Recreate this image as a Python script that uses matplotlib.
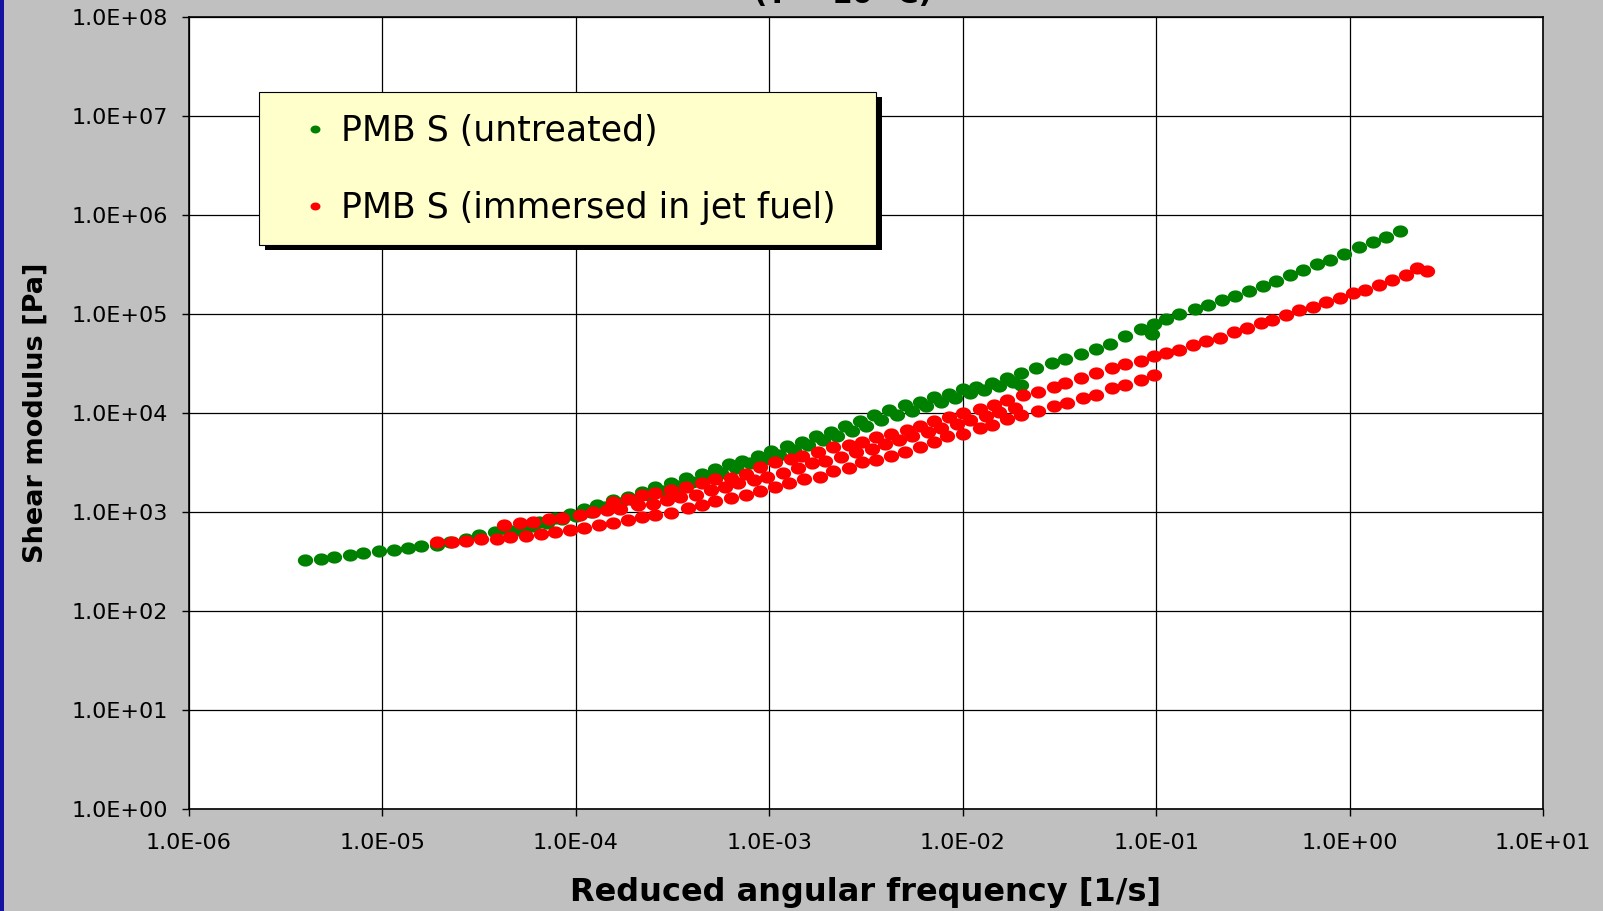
import numpy as np
import matplotlib
matplotlib.use("Agg")
import matplotlib.pyplot as plt
from matplotlib.patches import Rectangle
from matplotlib.ticker import LogLocator, NullLocator, FuncFormatter

plt.rcParams['font.family'] = ['DejaVu Sans']

# master curves, log10 of reduced angular frequency [1/s] and log10 of shear modulus [Pa]
# PMB S untreated - first row of sweeps
untreated_a_logw = [-5.40, -5.32, -5.25, -5.17, -5.10, -5.02, -4.94, -4.87, -4.80, -4.72,
                    -4.65, -4.57, -4.50, -4.42, -4.35, -4.27, -4.19, -4.11, -4.03,
                    -3.96, -3.89, -3.81, -3.73, -3.66, -3.59, -3.51, -3.43, -3.35, -3.28,
                    -3.21, -3.14, -3.06, -2.99, -2.91, -2.83, -2.76, -2.68, -2.61, -2.53, -2.46,
                    -2.38, -2.30, -2.22, -2.15, -2.07, -2.00, -1.93, -1.85, -1.77, -1.70,
                    -1.62, -1.54, -1.47, -1.39, -1.31, -1.24,
                    -1.16, -1.08, -1.01, -0.95, -0.88, -0.80, -0.73, -0.66, -0.59, -0.52,
                    -0.45, -0.38, -0.31, -0.24, -0.17, -0.10, -0.03, 0.05, 0.12, 0.19, 0.26]
untreated_a_logG = [2.52, 2.53, 2.55, 2.57, 2.59, 2.61, 2.62, 2.64, 2.66, 2.67,
                    2.70, 2.73, 2.77, 2.80, 2.82, 2.86, 2.90, 2.94, 2.98,
                    3.03, 3.07, 3.12, 3.15, 3.20, 3.25, 3.29, 3.34, 3.38, 3.43,
                    3.48, 3.52, 3.57, 3.62, 3.67, 3.71, 3.77, 3.81, 3.87, 3.92, 3.98,
                    4.03, 4.08, 4.11, 4.16, 4.19, 4.24, 4.26, 4.30, 4.35, 4.40,
                    4.45, 4.50, 4.55, 4.60, 4.65, 4.70,
                    4.78, 4.85, 4.90, 4.95, 5.00, 5.05, 5.09, 5.14, 5.18, 5.23,
                    5.28, 5.33, 5.39, 5.44, 5.50, 5.55, 5.61, 5.68, 5.73, 5.78, 5.84]

# PMB S untreated - overlapping sweeps
untreated_b_logw = [-4.30, -4.22, -4.15, -4.07, -4.00, -3.92, -3.85, -3.77, -3.70, -3.62,
                    -3.55, -3.47, -3.40, -3.32, -3.25, -3.17, -3.10, -3.02, -2.95, -2.87,
                    -2.80, -2.72, -2.65, -2.57, -2.50, -2.42, -2.34, -2.26, -2.19, -2.11,
                    -2.04, -1.96, -1.89, -1.81, -1.74, -1.70, -1.02]
untreated_b_logG = [2.82, 2.86, 2.89, 2.93, 2.96, 3.00, 3.05, 3.09, 3.12, 3.17,
                    3.21, 3.26, 3.30, 3.35, 3.39, 3.44, 3.49, 3.54, 3.58, 3.63,
                    3.68, 3.73, 3.77, 3.82, 3.87, 3.93, 3.98, 4.02, 4.07, 4.11,
                    4.15, 4.20, 4.23, 4.27, 4.31, 4.28, 4.80]

# PMB S immersed in jet fuel - lower row
fuel_low_logw = [-4.72, -4.64, -4.57, -4.49, -4.41, -4.34, -4.26, -4.18, -4.11, -4.03,
                 -3.96, -3.88, -3.81, -3.73, -3.66, -3.59, -3.51, -3.42, -3.35, -3.28,
                 -3.20, -3.12, -3.05, -2.97, -2.90, -2.82, -2.74, -2.67, -2.59, -2.52,
                 -2.45, -2.37, -2.30, -2.22, -2.15, -2.08, -2.00, -1.91, -1.85, -1.77,
                 -1.70, -1.61, -1.53, -1.46, -1.38, -1.31, -1.23, -1.16, -1.08, -1.01]
fuel_low_logG = [2.70, 2.70, 2.71, 2.73, 2.73, 2.75, 2.76, 2.78, 2.80, 2.82,
                 2.84, 2.87, 2.89, 2.92, 2.95, 2.97, 2.99, 3.04, 3.07, 3.11,
                 3.14, 3.17, 3.21, 3.25, 3.29, 3.33, 3.35, 3.41, 3.44, 3.50,
                 3.53, 3.57, 3.61, 3.66, 3.71, 3.77, 3.79, 3.85, 3.88, 3.94,
                 3.98, 4.02, 4.07, 4.10, 4.15, 4.18, 4.25, 4.28, 4.33, 4.38]

# PMB S immersed in jet fuel - middle row
fuel_mid_logw = [-3.84, -3.77, -3.68, -3.60, -3.53, -3.46, -3.38, -3.30, -3.23, -3.16,
                 -3.08, -3.01, -2.93, -2.85, -2.78, -2.71, -2.63, -2.55, -2.47, -2.40,
                 -2.33, -2.26, -2.18, -2.11, -2.03, -1.96, -1.88, -1.81, -1.73]
fuel_mid_logG = [3.02, 3.03, 3.07, 3.08, 3.12, 3.15, 3.17, 3.22, 3.25, 3.29,
                 3.32, 3.35, 3.39, 3.44, 3.49, 3.52, 3.56, 3.61, 3.64, 3.69,
                 3.73, 3.77, 3.81, 3.85, 3.89, 3.93, 3.97, 4.01, 4.05]

# PMB S immersed in jet fuel - upper row
fuel_up_logw = [-4.37, -4.29, -4.22, -4.14, -4.07, -3.98, -3.91, -3.81, -3.73, -3.66,
                -3.59, -3.51, -3.43, -3.35, -3.28, -3.20, -3.12, -3.05, -2.97, -2.89,
                -2.83, -2.75, -2.67, -2.59, -2.52, -2.45, -2.37, -2.29, -2.22, -2.15,
                -2.07, -2.00, -1.91, -1.84, -1.77, -1.69, -1.61, -1.53, -1.47, -1.39,
                -1.31, -1.23, -1.16, -1.08, -1.01, -0.95, -0.88, -0.81, -0.74, -0.67,
                -0.60, -0.53, -0.46, -0.40, -0.33, -0.26, -0.19, -0.12, -0.05, 0.02,
                0.08, 0.15, 0.22, 0.29, 0.35, 0.40]
fuel_up_logG = [2.87, 2.89, 2.90, 2.93, 2.94, 2.97, 3.00, 3.10, 3.13, 3.17,
                3.19, 3.22, 3.25, 3.29, 3.33, 3.34, 3.38, 3.45, 3.50, 3.54,
                3.57, 3.61, 3.66, 3.68, 3.71, 3.76, 3.79, 3.83, 3.87, 3.92,
                3.96, 4.00, 4.04, 4.08, 4.13, 4.18, 4.21, 4.26, 4.30, 4.35,
                4.40, 4.45, 4.49, 4.53, 4.58, 4.61, 4.64, 4.69, 4.73, 4.76,
                4.82, 4.86, 4.91, 4.94, 4.99, 5.04, 5.07, 5.12, 5.16, 5.21,
                5.24, 5.29, 5.34, 5.39, 5.46, 5.43]

labels = ["PMB S (untreated)", "PMB S (immersed in jet fuel)"]
GREEN = '#008000'
RED = '#ff0000'

W, H = 1603, 911
fig = plt.figure(figsize=(W / 100, H / 100), dpi=100, facecolor='#c0c0c0')

# plot area in pixels: left 189, right 1543, top 17, bottom 809
ax = fig.add_axes([189 / W, 1 - 809 / H, (1543 - 189) / W, (809 - 17) / H])
ax.set_facecolor('white')
ax.set_xscale('log')
ax.set_yscale('log')
ax.set_xlim(1e-6, 1e1)
ax.set_ylim(1e0, 1e8)

sci = FuncFormatter(lambda v, pos: f"{v:.1E}")
ax.xaxis.set_major_locator(LogLocator(base=10, numticks=20))
ax.yaxis.set_major_locator(LogLocator(base=10, numticks=20))
ax.xaxis.set_minor_locator(NullLocator())
ax.yaxis.set_minor_locator(NullLocator())
ax.xaxis.set_major_formatter(sci)
ax.yaxis.set_major_formatter(sci)
ax.tick_params(axis='both', direction='out', length=5, width=1, labelsize=16, color='black')
ax.tick_params(axis='y', pad=10)
ax.tick_params(axis='x', pad=12)

ax.grid(True, which='major', color='black', linewidth=0.9)
ax.set_axisbelow(True)
for sp in ax.spines.values():
    sp.set_linewidth(1.2)
    sp.set_color('black')

# slightly wide dot, as the points look in the exported chart
t = np.linspace(0, 2 * np.pi, 48)
dot = np.column_stack([1.25 * np.cos(t), np.sin(t)])
mk = dict(linestyle='none', marker=dot, markersize=11, markeredgewidth=0)

def pts(lw, lg):
    return 10 ** np.array(lw), 10 ** np.array(lg)

h_green, = ax.plot(*pts(untreated_a_logw, untreated_a_logG), color=GREEN, **mk)
ax.plot(*pts(untreated_b_logw, untreated_b_logG), color=GREEN, **mk)
h_red, = ax.plot(*pts(fuel_low_logw, fuel_low_logG), color=RED, **mk)
ax.plot(*pts(fuel_mid_logw, fuel_mid_logG), color=RED, **mk)
ax.plot(*pts(fuel_up_logw, fuel_up_logG), color=RED, **mk)

ax.set_xlabel("Reduced angular frequency [1/s]", fontsize=23, fontweight='bold')
ax.set_ylabel("Shear modulus [Pa]", fontsize=19.5, fontweight='bold')
ax.xaxis.set_label_coords(0.5, -0.086)
ax.yaxis.set_label_coords(-0.104, 0.5)

# legend box with black drop shadow
bx0, by0, bx1, by1 = 258.6, 92, 876, 245.4
fig.patches.append(Rectangle(((bx0 + 6) / W, 1 - (by1 + 5) / H), (bx1 - bx0) / W, (by1 - by0) / H,
                             transform=fig.transFigure, facecolor='black', edgecolor='none', zorder=2))
fig.patches.append(Rectangle((bx0 / W, 1 - by1 / H), (bx1 - bx0) / W, (by1 - by0) / H,
                             transform=fig.transFigure, facecolor='#ffffcc', edgecolor='black',
                             linewidth=0.8, zorder=3))
fig.legend([h_green, h_red], labels, loc='upper left', bbox_to_anchor=(298.3 / W, 1 - 114 / H),
           bbox_transform=fig.transFigure, frameon=False, borderpad=0, borderaxespad=0,
           fontsize=25, handlelength=0.95, handletextpad=0.27, labelspacing=1.25,
           markerscale=0.65).set_zorder(5)

# strip of the slide background on the left edge
fig.patches.append(Rectangle((0, 0), 4 / W, 1, transform=fig.transFigure,
                             facecolor='#1414a0', edgecolor='none', zorder=2))

# chart title, mostly above the top edge
fig.text(843 / W, 1 - 3 / H, "(T = 10 \u00b0C)", ha='center', va='baseline',
         fontsize=21, fontweight='bold')

fig.savefig("out.png", dpi=100, facecolor=fig.get_facecolor())
